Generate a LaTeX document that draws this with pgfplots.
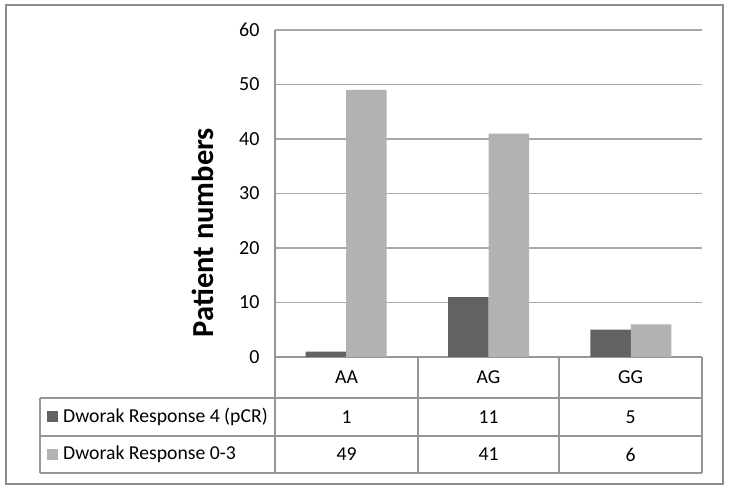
\documentclass[border=0pt]{standalone}
\usepackage{pgfplots}
\pgfplotsset{compat=1.18}
\usepackage{fontspec}
\setmainfont{Carlito}
\definecolor{darkbar}{RGB}{98,98,98}
\definecolor{lightbar}{RGB}{178,178,178}
\definecolor{gridc}{RGB}{168,168,168}
\definecolor{linec}{RGB}{150,150,150}
\definecolor{boxc}{RGB}{140,140,140}
\begin{document}
\begin{tikzpicture}[x=1pt,y=1pt]
\path[use as bounding box] (0,0) rectangle (729,489);
\fill[white] (0,0) rectangle (729,489);
\draw[boxc, line width=2pt] (5.5,5) rectangle (722.5,484);
\begin{axis}[
  at={(275pt,132pt)}, anchor=south west,
  scale only axis, width=427pt, height=327pt,
  xmin=-0.5, xmax=2.5, ymin=0, ymax=60,
  ytick={0,10,...,60}, xtick=\empty,
  axis x line*=bottom, axis y line*=left,
  axis line style={linec, line width=1.2pt, -},
  ymajorgrids, grid style={gridc, line width=1.2pt},
  major tick length=0pt,
  /pgf/number format/assume math mode=true,
  yticklabel style={font=\fontsize{20}{24}\selectfont, text=black, xshift=-12pt},
  ybar=0pt, bar width=40.5pt,
  clip=false,
]
\addplot[fill=darkbar, draw=none] coordinates {(0,1) (1,11) (2,5)};
\addplot[fill=lightbar, draw=none] coordinates {(0,49) (1,41) (2,6)};
\end{axis}
% data table
\begin{scope}[linec, line width=1.2pt]
\draw (40,91) -- (702,91);
\draw (40,53) -- (702,53);
\draw (40,16) -- (702,16);
\draw (40,16) -- (40,91);
\draw (275,16) -- (275,132);
\draw (418,16) -- (418,132);
\draw (559,16) -- (559,132);
\draw (702,16) -- (702,132);
\end{scope}
\begin{scope}[font=\fontsize{19.7}{23}\selectfont, text=black]
\node at (346.5,111.5) {AA};
\node at (488.5,111.5) {AG};
\node at (630.5,111.5) {GG};
\node at (346.5,72) {1};
\node at (488.5,72) {11};
\node at (630.5,72) {5};
\node at (346.5,34.5) {49};
\node at (488.5,34.5) {41};
\node at (630.5,34.5) {6};
\fill[darkbar] (47,66.5) rectangle (58,77.5);
\fill[lightbar] (47,29) rectangle (58,40);
\node[anchor=west, inner sep=0pt] at (63,72) {Dworak Response 4 (pCR)};
\node[anchor=west, inner sep=0pt] at (63,34.5) {Dworak Response 0-3};
\end{scope}
\node[rotate=90, anchor=base, inner sep=0pt, font=\fontsize{30.5}{36}\selectfont\bfseries] at (213,256.5) {Patient numbers};
\end{tikzpicture}
\end{document}
